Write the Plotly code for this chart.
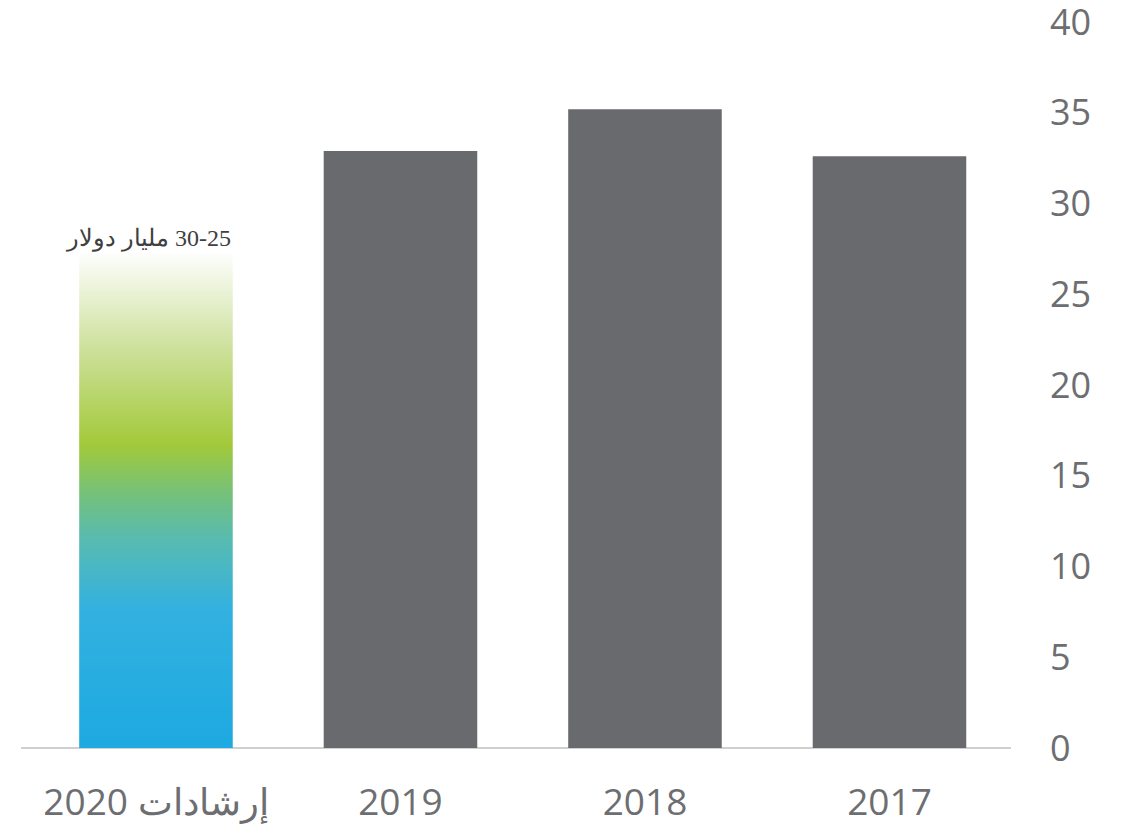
import plotly.graph_objects as go

categories = ["2017", "2018", "2019", "إرشادات 2020"]
actual_values = [32.6, 35.2, 32.9]
guidance_value = 27.4
guidance_label = "مليار دولار \u200e30-25"
y_ticks = [0, 5, 10, 15, 20, 25, 30, 35, 40]

bar_width = 0.628
gray = "#6D6E71"
positions = list(range(len(categories)))

fig = go.Figure()

fig.add_trace(go.Bar(
    x=positions[:3], y=actual_values, width=bar_width,
    marker=dict(color="#686A6E", line=dict(width=0)),
    hoverinfo="skip", showlegend=False,
))

gx = positions[3]
fig.add_trace(go.Scatter(
    x=[gx - bar_width / 2, gx + bar_width / 2, gx + bar_width / 2, gx - bar_width / 2, gx - bar_width / 2],
    y=[0, 0, guidance_value, guidance_value, 0],
    mode="lines", line=dict(width=0), fill="toself",
    fillgradient=dict(
        type="vertical", start=0, stop=guidance_value,
        colorscale=[
            [0.0, "#1DA9E1"],
            [0.28, "#33B1E0"],
            [0.42, "#58BBB0"],
            [0.51, "#74C17A"],
            [0.61, "#A3C93A"],
            [0.8, "#CCE09A"],
            [0.93, "#EDF4DC"],
            [1.0, "#FFFFFF"],
        ],
    ),
    hoverinfo="skip", showlegend=False,
))

fig.add_annotation(
    x=gx, y=guidance_value, yshift=-3, xshift=-7, text=guidance_label, showarrow=False,
    yanchor="bottom", xanchor="center",
    font=dict(family="Liberation Serif, DejaVu Serif, serif", size=24, color="#404040"),
)

fig.update_layout(
    width=1127, height=826,
    margin=dict(l=21, r=116, t=22, b=78),
    paper_bgcolor="white", plot_bgcolor="white",
    font=dict(family="Open Sans, Noto Sans, sans-serif", size=37, color=gray),
    xaxis=dict(
        range=[3.552, -0.497], tickmode="array", tickvals=positions, ticktext=categories,
        showgrid=False, zeroline=False, showline=False, ticks="", automargin=False,
        tickfont=dict(size=37, color=gray), ticklabelstandoff=29,
    ),
    yaxis=dict(
        side="right", range=[0, 40.001], tickmode="array", tickvals=y_ticks,
        showgrid=False, zeroline=True, zerolinecolor="#D0D0D0", zerolinewidth=2,
        showline=False, ticks="", tickfont=dict(size=36, color=gray),
        ticklabelstandoff=38, automargin=False, ticklabeloverflow="allow",
    ),
)

fig.write_html(
    "out.html",
    config={"displayModeBar": False, "staticPlot": True},
    post_script="document.body.style.margin='0';document.body.style.overflow='hidden';",
)
